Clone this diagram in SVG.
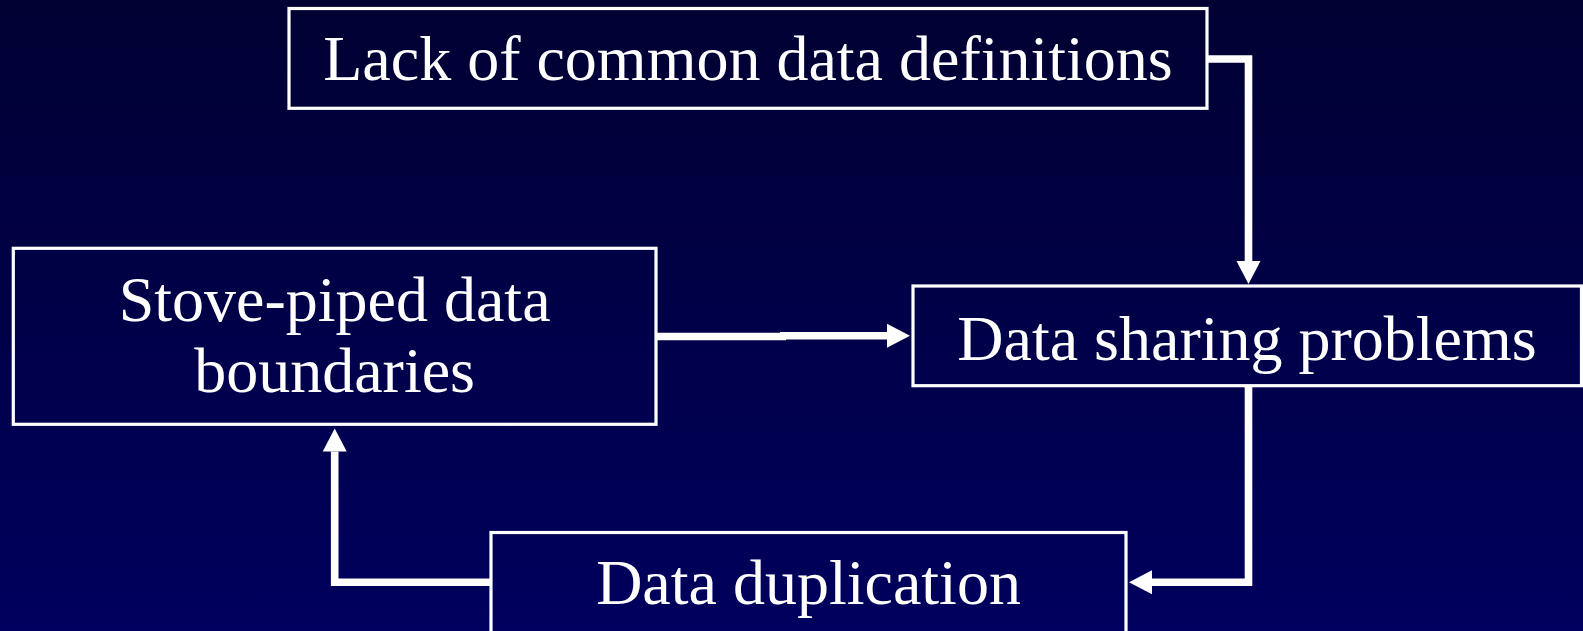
<svg xmlns="http://www.w3.org/2000/svg" width="1583" height="631" viewBox="0 0 1583 631">
  <defs>
    <linearGradient id="bg" x1="0" y1="0" x2="0" y2="1">
      <stop offset="0" stop-color="#000032"/>
      <stop offset="1" stop-color="#00005e"/>
    </linearGradient>
    <marker id="arrow" markerUnits="userSpaceOnUse" markerWidth="24" markerHeight="25" refX="0" refY="12" orient="auto" viewBox="0 0 24 24">
      <path d="M0,0 L23,12 L0,24 Z" fill="#ffffff"/>
    </marker>
  </defs>
  <style>
    .box { fill: none; stroke: #ffffff; stroke-width: 3.2; }
    .lbl { font-family: "Liberation Serif", "Times New Roman", serif; font-size: 64px; fill: #ffffff; text-anchor: middle; }
    .conn { fill: none; stroke: #ffffff; stroke-width: 7.6; stroke-linejoin: miter; stroke-linecap: butt; }
  </style>
  <rect x="0" y="0" width="1583" height="631" fill="url(#bg)"/>

  <g id="connectors">
    <path class="conn" d="M1208,59 H1248.5 V261" marker-end="url(#arrow)"/>
    <path class="conn" d="M657,336.5 H786"/>
    <path class="conn" d="M780,335.7 H887" marker-end="url(#arrow)"/>
    <path class="conn" d="M1248.5,387 V582.2 H1152" marker-end="url(#arrow)"/>
    <path class="conn" d="M490,582.2 H334.7 V451.5" marker-end="url(#arrow)"/>
  </g>

  <g id="node-lack">
    <rect class="box" x="289" y="8.5" width="918" height="99.8"/>
    <text class="lbl" x="748" y="80">Lack of common data definitions</text>
  </g>

  <g id="node-stove">
    <rect class="box" x="13.3" y="248.3" width="642.7" height="176"/>
    <text class="lbl" x="334.6" y="321">Stove-piped data</text>
    <text class="lbl" x="334.6" y="391.7">boundaries</text>
  </g>

  <g id="node-sharing">
    <rect class="box" x="913" y="286" width="668.5" height="99.7"/>
    <text class="lbl" x="1247" y="359.5">Data sharing problems</text>
  </g>

  <g id="node-dup">
    <rect class="box" x="491" y="532.5" width="635" height="110"/>
    <text class="lbl" x="808.5" y="604">Data duplication</text>
  </g>
</svg>
